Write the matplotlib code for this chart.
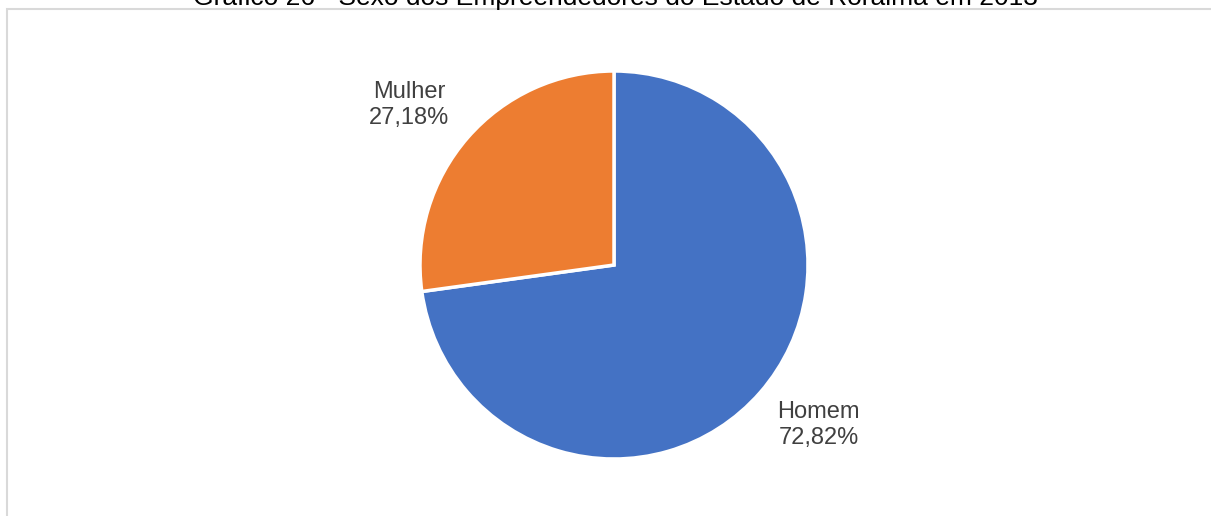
import numpy as np
import matplotlib.pyplot as plt
from matplotlib.patches import Rectangle

plt.rcParams['font.family'] = ['Liberation Sans', 'DejaVu Sans']

labels = ["Homem", "Mulher"]
shares = [72.82, 27.18]
colors = ["#4472C4", "#ED7D31"]
title = "Gráfico 26 - Sexo dos Empreendedores do Estado de Roraima em 2013"

W, H = 1211, 516
cx, cy, R = 614, H - 265, 194

fig = plt.figure(figsize=(W / 100, H / 100), dpi=100)
fig.patch.set_facecolor("white")

# chart area border (cropped on the right and bottom)
fig.patches.append(Rectangle((7 / W, -0.1), 1.2, 1 - 9 / H + 0.1, transform=fig.transFigure,
                             fill=False, edgecolor="#D9D9D9", linewidth=1.5))

# title, mostly cut off by the top edge
fig.text(615 / W, 1 - 5 / H, title, ha="center", va="baseline", fontsize=19, color="black")

ax = fig.add_axes([0, 0, 1, 1])
texts = [f"{l}\n{v:.2f}%".replace(".", ",") for l, v in zip(labels, shares)]
wedges, txts = ax.pie(shares, labels=texts, colors=colors, startangle=90, counterclock=False,
                      center=(cx, cy), radius=R, labeldistance=1.34,
                      wedgeprops=dict(edgecolor="white", linewidth=2.5),
                      textprops=dict(fontsize=17, color="#404040"), frame=True)
for w, t in zip(wedges, txts):
    mid = np.deg2rad((w.theta1 + w.theta2) / 2 + 3)
    t.set_position((cx + 1.34 * R * np.cos(mid), cy + 1.34 * R * np.sin(mid)))
    t.set_ha("center")
    t.set_va("center")
    t.set_linespacing(1.25)
ax.set_xlim(0, W)
ax.set_ylim(0, H)
ax.set_aspect("equal")
ax.axis("off")

fig.savefig("out.png", dpi=100)
